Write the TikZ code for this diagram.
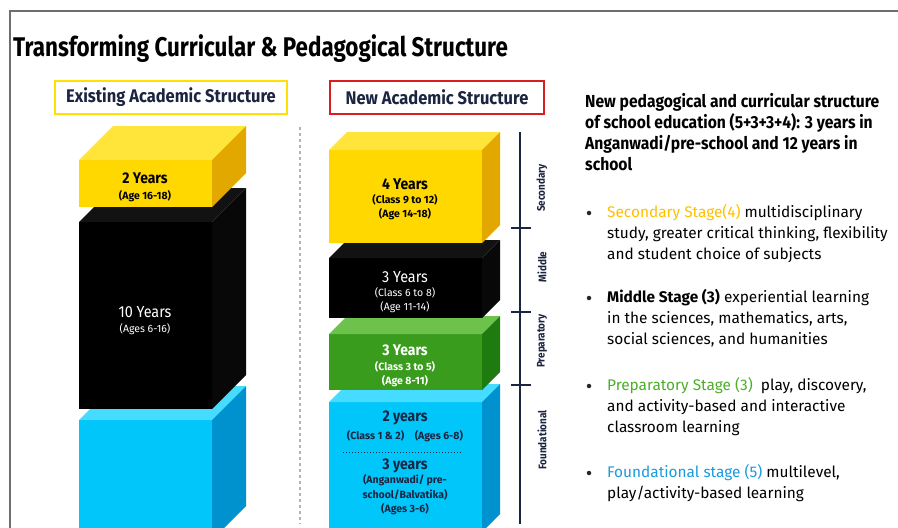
\documentclass[tikz,border=0pt]{standalone}
\usepackage{fontspec}
\setmainfont{Fira Sans}[FakeStretch=0.9]
\newfontfamily\titlefont{Fira Sans}[FakeStretch=0.83]
\newfontfamily\widefont{Fira Sans}
\usetikzlibrary{positioning}

\definecolor{navy}{HTML}{1B2440}
\definecolor{framegray}{HTML}{6E6E6E}
\definecolor{hdyellow}{HTML}{FFE000}
\definecolor{hdred}{HTML}{D81E1E}
\definecolor{divblue}{HTML}{A8B6C4}
\definecolor{yfront}{HTML}{FFD800}
\definecolor{ytop}{HTML}{FFE43A}
\definecolor{yside}{HTML}{E3A800}
\definecolor{kfront}{HTML}{000000}
\definecolor{ktop}{HTML}{121212}
\definecolor{kside}{HTML}{080808}
\definecolor{gfront}{HTML}{3A9C1C}
\definecolor{gtop}{HTML}{6CC24A}
\definecolor{gside}{HTML}{1F7A10}
\definecolor{bfront}{HTML}{00C6FA}
\definecolor{btop}{HTML}{45DCFF}
\definecolor{bside}{HTML}{0092CE}
\definecolor{secyel}{HTML}{FFC000}
\definecolor{prepgreen}{HTML}{4CAF28}
\definecolor{foundblue}{HTML}{1A9BE0}

% x, top y, width, height, depth, front, top, side
\newcommand{\stackblock}[8]{%
  \fill[#6] (#1,#2) rectangle ++(#3,#4);
  \fill[#7] (#1,#2) -- ++(#5,-#5) -- ++(#3,0) -- ++(-#5,#5) -- cycle;
  \fill[#8] (#1+#3,#2) -- ++(#5,-#5) -- ++(0,#4) -- ++(-#5,#5) -- cycle;
}

\begin{document}
\begin{tikzpicture}[
    x=1pt, y=-1pt,
    hbox/.style={rectangle, draw, line width=2pt, minimum height=33pt, text=navy,
      font=\bfseries\fontsize{18.3}{20}\selectfont},
    big/.style={font=\bfseries\fontsize{15.5}{18}\selectfont},
    plainbig/.style={font=\fontsize{16}{18}\selectfont},
    small/.style={align=center, font=\widefont\bfseries\fontsize{10.5}{13.5}\selectfont},
    plainsmall/.style={align=center, font=\widefont\fontsize{10.5}{14}\selectfont},
    stage/.style={rotate=90, text=navy, font=\bfseries\fontsize{11}{12}\selectfont},
    para/.style={anchor=north west, align=left, inner sep=0pt,
      font=\widefont\fontsize{15.4}{21}\selectfont},
    dot/.style={circle, fill=black!85, inner sep=0pt, minimum size=4.5pt}
]
\useasboundingbox (0,0) rectangle (898,528);
\fill[white] (0,0) rectangle (898,528);

% frame and title
\draw[framegray, line width=2pt] (10,528) -- (10,11) -- (898,11);
\node[anchor=west, inner sep=0pt, font=\titlefont\bfseries\fontsize{27}{30}\selectfont] (title) at (13,48.5)
  {Transforming Curricular \& Pedagogical Structure};

% column headers
\node[hbox, draw=hdyellow, minimum width=232pt] (oldhead) at (171,97.5) {Existing Academic Structure};
\node[hbox, draw=hdred, minimum width=214pt] (newhead) at (437,97.5) {New Academic Structure};

\draw[divblue, dashed, line width=1.2pt] (300,127) -- (300,524);

% existing structure
\stackblock{79}{420}{133}{120}{34}{bfront}{btop}{bside}
\stackblock{79}{222}{133}{187}{34}{kfront}{ktop}{kside}
\stackblock{79}{160}{133}{47}{34}{yfront}{ytop}{yside}

\node[big] (twoyr) at (145,178) {2 Years};
\node[small] (twoage) at (145,196) {(Age 16-18)};
\node[plainbig, white] (tenyr) at (145,312) {10 Years};
\node[plainsmall, white] (tenage) at (145,329) {(Ages 6-16)};

% new structure
\stackblock{329}{402}{153}{130}{18}{bfront}{btop}{bside}
\stackblock{329}{334}{153}{56}{18}{gfront}{gtop}{gside}
\stackblock{329}{258}{153}{60}{18}{kfront}{ktop}{kside}
\stackblock{329}{150}{153}{93}{18}{yfront}{ytop}{yside}

\node[big] (secyr) at (405,184) {4 Years};
\node[small] (secage) at (405,207) {(Class 9 to 12)\\(Age 14-18)};
\node[plainbig, white] (midyr) at (405,277) {3 Years};
\node[plainsmall, white] (midage) at (405,300) {(Class 6 to 8)\\(Age 11-14)};
\node[big, white] (prepyr) at (405,350) {3 Years};
\node[small, white] (prepage) at (405,374) {(Class 3 to 5)\\(Age 8-11)};
\node[big, text=navy] (fndyr) at (405,418) {2 years};
\node[small, text=navy] (fndage) at (405,436) {(Class 1 \& 2)\quad(Ages 6-8)};
\draw[navy, dotted, line width=1pt] (343,452) -- (463,452);
\node[big, text=navy] (preyr) at (405,466) {3 years};
\node[small, text=navy, font=\widefont\bfseries\fontsize{10.5}{14.5}\selectfont] (preage) at (405,495)
  {(Anganwadi/ pre-\\school/Balvatika)\\(Ages 3-6)};

% stage axis
\draw[navy, line width=2pt] (520,132) -- (520,524);
\foreach \ty in {228,312,385}
  \draw[navy, line width=2pt] (511,\ty) -- (531,\ty);
\node[stage] (secname) at (542,188) {Secondary};
\node[stage] (midname) at (542,267) {Middle};
\node[stage] (prepname) at (542,341) {Preparatory};
\node[stage] (fndname) at (542,440) {Foundational};

% description
\node[para, font=\bfseries\fontsize{17.4}{21}\selectfont] (intro) at (585,93)
  {New pedagogical and curricular structure\\of school education (5+3+3+4): 3 years in\\Anganwadi/pre-school and 12 years in\\school};

\node[para] (secitem) at (607,204)
  {\textcolor{secyel}{Secondary Stage(4)} multidisciplinary\\study, greater critical thinking, flexibility\\and student choice of subjects};
\node[para] (miditem) at (607,289)
  {\textbf{Middle Stage (3)} experiential learning\\in the sciences, mathematics, arts,\\social sciences, and humanities};
\node[para] (prepitem) at (607,377)
  {\textcolor{prepgreen}{Preparatory Stage (3)}\ \ play, discovery,\\and activity-based and interactive\\classroom learning};
\node[para] (fnditem) at (607,464)
  {\textcolor{foundblue}{Foundational stage (5)} multilevel,\\play/activity-based learning};

\node[dot] (secdot) at (589,213) {};
\node[dot] (middot) at (589,298) {};
\node[dot] (prepdot) at (589,386) {};
\node[dot] (fnddot) at (589,473) {};
\end{tikzpicture}
\end{document}
